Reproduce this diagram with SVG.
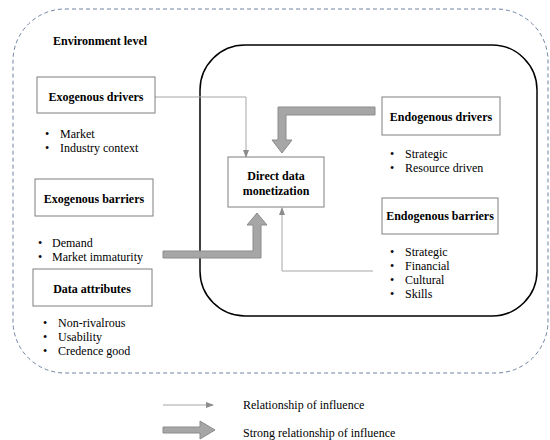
<svg xmlns="http://www.w3.org/2000/svg" width="550" height="440" viewBox="0 0 550 440">
<defs>
<style>
text{font-family:"Liberation Serif",Tinos,"Times New Roman","DejaVu Serif",serif;font-size:12px;fill:#000}
.b{font-weight:bold}
.c{text-anchor:middle}
.box{fill:#fff;stroke:#7f7f7f;stroke-width:1}
.thin{fill:none;stroke:#a6a6a6;stroke-width:1}
.thick{fill:#a6a6a6;stroke:#8c8c8c;stroke-width:1}
</style>
<marker id="ah" markerWidth="8" markerHeight="6" refX="7" refY="3" orient="auto" markerUnits="userSpaceOnUse">
<path d="M0,0 L8,3 L0,6 Z" fill="#8c8c8c"/>
</marker>
</defs>
<rect width="550" height="440" fill="#fff"/>
<g id="environment">
<rect x="13" y="9" width="535" height="364" rx="52" ry="52" fill="none" stroke="#6f83a3" stroke-width="1" stroke-dasharray="4,3"/>
<text x="53" y="45" class="b" font-family="Liberation Serif, serif">Environment level</text>
</g>
<g id="organization">
<rect x="200" y="45" width="337" height="271" rx="45" ry="45" fill="none" stroke="#000" stroke-width="1.5"/>
</g>
<g id="connectors">
<path class="thin" d="M155,97 H246 V157" marker-end="url(#ah)"/>
<path class="thin" d="M373,271 H282 V208" marker-end="url(#ah)"/>
<polygon class="thick" points="375,107 278,107 278,140 272,140 282,153 292,140 286,140 286,115 375,115"/>
<polygon class="thick" points="163,251 253,251 253,225 247,225 257,213 267,225 261,225 261,258 163,258"/>
</g>
<g id="exogenous-drivers">
<rect class="box" x="37" y="77" width="118" height="36"/>
<text x="96" y="101" class="b c">Exogenous drivers</text>
<text x="45" y="138">•</text><text x="60" y="138">Market</text>
<text x="45" y="152">•</text><text x="60" y="152">Industry context</text>
</g>
<g id="exogenous-barriers">
<rect class="box" x="35" y="179" width="118" height="37"/>
<text x="94" y="203" class="b c">Exogenous barriers</text>
<text x="38" y="247">•</text><text x="52" y="247">Demand</text>
<text x="38" y="261">•</text><text x="52" y="261">Market immaturity</text>
</g>
<g id="data-attributes">
<rect class="box" x="33" y="269" width="119" height="37"/>
<text x="92" y="293" class="b c">Data attributes</text>
<text x="43" y="327">•</text><text x="58" y="327">Non-rivalrous</text>
<text x="43" y="341">•</text><text x="58" y="341">Usability</text>
<text x="43" y="355">•</text><text x="58" y="355">Credence good</text>
</g>
<g id="direct-data-monetization">
<rect class="box" x="228" y="157" width="96" height="50"/>
<text x="276" y="180" class="b c">Direct data</text>
<text x="276" y="195" class="b c">monetization</text>
</g>
<g id="endogenous-drivers">
<rect class="box" x="382" y="97" width="118" height="38"/>
<text x="441" y="121" class="b c">Endogenous drivers</text>
<text x="390" y="158">•</text><text x="405" y="158">Strategic</text>
<text x="390" y="172">•</text><text x="405" y="172">Resource driven</text>
</g>
<g id="endogenous-barriers">
<rect class="box" x="382" y="198" width="116" height="36"/>
<text x="440" y="220" class="b c">Endogenous barriers</text>
<text x="390" y="256">•</text><text x="405" y="256">Strategic</text>
<text x="390" y="270">•</text><text x="405" y="270">Financial</text>
<text x="390" y="284">•</text><text x="405" y="284">Cultural</text>
<text x="390" y="298">•</text><text x="405" y="298">Skills</text>
</g>
<g id="legend">
<path class="thin" d="M163,405 H213" marker-end="url(#ah)"/>
<text x="243" y="409">Relationship of influence</text>
<polygon class="thick" points="163,427 200,427 200,421 215,430 200,439 200,433 163,433"/>
<text x="243" y="437">Strong relationship of influence</text>
</g>
</svg>
